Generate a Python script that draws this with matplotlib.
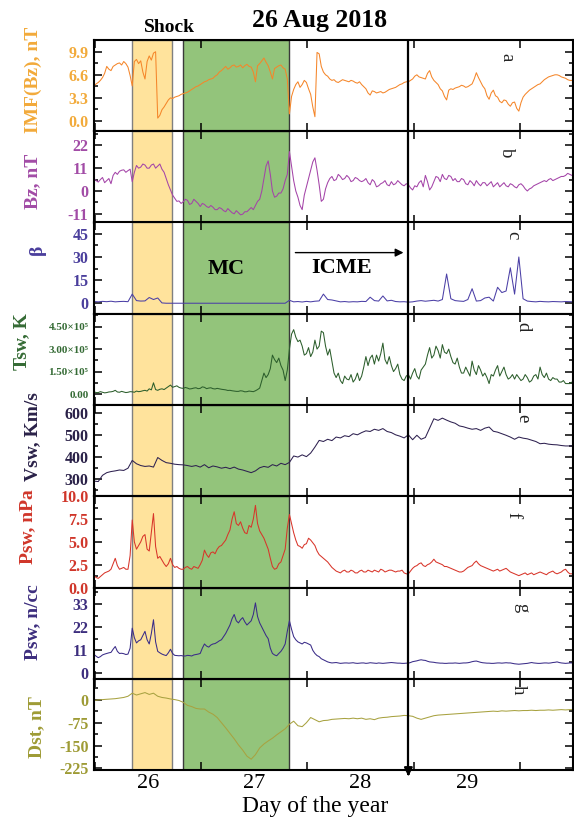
import numpy as np
import matplotlib.pyplot as plt
from matplotlib.ticker import FixedLocator

plt.rcParams['font.family'] = ['Liberation Serif', 'DejaVu Serif']

# ---------------- data ----------------
# main samples every 0.04 day, "mid" samples halfway between them
days = np.round(25.49 + 0.04 * np.arange(114), 2)
mid_days = np.round(days[:-1] + 0.02, 2)

imf_b = [5.0, 5.5, 6.2, 7.8, 7.2, 8.0, 8.3, 8.5, 7.7, 5.0,
         8.8, 8.6, 6.0, 9.3, 9.7, 0.4, 1.6, 2.5, 3.3, 3.4,
         3.6, 3.9, 4.1, 4.5, 4.9, 5.2, 5.6, 5.9, 6.1, 6.6,
         7.2, 7.8, 7.6, 8.0, 7.8, 7.6, 8.1, 7.7, 5.6, 8.2,
         9.0, 7.9, 6.0, 7.7, 8.0, 7.4, 1.0, 4.5, 5.6, 5.2,
         5.5, 3.8, 0.6, 9.6, 7.0, 6.4, 5.8, 5.6, 5.7, 5.8,
         5.6, 5.7, 5.4, 5.2, 4.6, 3.7, 4.2, 4.1, 4.0, 4.3,
         4.6, 4.8, 5.2, 5.5, 5.6, 6.0, 6.6, 6.2, 6.0, 7.2,
         5.8, 5.2, 4.3, 3.0, 4.6, 4.7, 4.9, 5.0, 4.9, 5.3,
         6.9, 5.6, 4.6, 3.1, 4.4, 3.4, 2.6, 2.9, 2.1, 2.7,
         1.4, 3.4, 4.1, 4.6, 5.0, 5.3, 5.9, 6.3, 6.5, 6.6,
         6.3, 6.1, 5.8, 5.8]
imf_b_mid = [5.3, 5.8, 6.8, 7.4, 7.8, 8.2, 8.0, 8.2, 6.5, 8.5,
             8.2, 7.0, 8.5, 8.7, 9.9, 0.8, 2.0, 3.0, 3.2, 3.5,
             3.8, 4.0, 4.3, 4.7, 5.0, 5.4, 5.7, 6.0, 6.4, 7.0,
             7.5, 7.4, 7.9, 7.7, 8.0, 7.9, 7.8, 7.0, 7.9, 8.6,
             8.4, 7.0, 7.5, 7.9, 7.6, 6.0, 3.5, 5.2, 4.8, 5.8,
             4.6, 2.0, 9.8, 7.8, 6.6, 6.0, 5.9, 5.5, 5.9, 5.7,
             5.8, 5.5, 5.6, 4.9, 4.0, 4.3, 4.0, 4.2, 4.1, 4.5,
             4.7, 5.0, 5.3, 5.6, 5.8, 6.4, 6.3, 6.1, 6.8, 6.3,
             5.5, 4.6, 3.5, 4.4, 4.5, 4.8, 5.1, 4.8, 5.1, 6.0,
             6.2, 5.0, 3.6, 4.0, 3.6, 2.8, 3.0, 2.4, 2.6, 1.8,
             2.6, 3.8, 4.4, 4.8, 5.2, 5.6, 6.1, 6.4, 6.6, 6.5,
             6.2, 5.9, 5.8]

bz = [6.0, 4.3, 6.5, 5.0, 3.5, 9.0, 9.5, 10.2, 9.8, 4.5,
      12.3, 11.5, 12.5, 11.0, 13.0, 12.0, 10.5, 6.0, 0.5, -3.5,
      -4.8, -5.2, -4.5, -6.0, -5.0, -7.5, -6.5, -8.0, -7.8, -9.0,
      -8.5, -10.0, -9.5, -11.0, -10.5, -11.2, -10.0, -8.0, -7.0, -4.0,
      6.0, 14.5, 0.0, -2.5, -1.0, 5.0, 19.0, 5.0, -3.0, -9.0,
      2.0, 10.0, 16.0, 3.0, -4.0, 4.0, 7.0, 5.5, 7.0, 6.0,
      6.5, 5.0, 6.0, 4.5, 6.0, 3.0, 4.5, 2.5, 4.0, 3.0,
      4.5, 3.5, 4.0, 2.5, 3.0, 0.5, 2.0, 5.0, 7.5, 0.5,
      4.5, 6.5, 8.0, 5.5, 7.0, 6.0, 4.5, 5.5, 3.0, 4.0,
      5.0, 2.5, 4.0, 3.5, 2.0, 4.0, 3.0, 2.5, 3.5, 2.0,
      3.0, 2.5, 0.0, 1.5, 3.0, 4.0, 5.0, 5.5, 5.0, 6.0,
      7.0, 7.5, 8.0, 8.0]
bz_mid = [5.0, 5.5, 4.0, 6.0, 7.5, 8.0, 10.0, 9.0, 10.5, 9.0,
          11.0, 13.0, 11.0, 12.5, 11.0, 13.0, 9.0, 3.0, -2.0, -5.0,
          -6.0, -4.0, -6.5, -4.0, -6.0, -6.0, -7.5, -7.0, -9.0, -8.0,
          -9.5, -8.5, -10.5, -9.5, -11.5, -10.0, -9.0, -9.0, -5.0, 0.0,
          12.0, 8.0, -3.0, -1.0, 1.0, 8.0, 12.0, 0.0, -7.0, -2.0,
          6.0, 14.0, 10.0, -5.0, 1.0, 6.0, 5.0, 8.0, 5.5, 7.5,
          4.5, 6.5, 5.0, 5.0, 4.0, 5.5, 2.0, 3.5, 5.0, 2.5,
          3.0, 5.0, 3.0, 3.5, 1.5, 2.5, 4.0, 2.0, 4.5, 2.0,
          7.0, 4.5, 6.0, 7.5, 5.0, 4.5, 6.0, 3.5, 5.0, 2.5,
          3.5, 4.0, 2.5, 4.5, 3.0, 2.0, 4.0, 2.0, 3.0, 1.5,
          3.5, 1.0, 1.0, 2.5, 3.5, 4.5, 4.5, 6.0, 5.5, 6.5,
          7.0, 8.5, 7.5]

beta = [1.2, 1.0, 1.3, 1.1, 1.4, 1.0, 1.2, 1.3, 1.1, 6.0,
        1.8, 1.5, 1.6, 3.8, 2.5, 3.5, 0.3, 0.1, 0.1, 0.1,
        0.1, 0.1, 0.1, 0.1, 0.1, 0.1, 0.1, 0.1, 0.1, 0.1,
        0.1, 0.1, 0.1, 0.1, 0.1, 0.1, 0.1, 0.1, 0.1, 0.1,
        0.1, 0.1, 0.1, 0.1, 0.1, 0.1, 2.0, 1.0, 1.2, 0.9,
        1.3, 1.0, 1.4, 1.6, 6.0, 2.5, 2.2, 1.6, 1.0, 1.2,
        0.9, 1.1, 1.0, 1.3, 1.2, 4.0, 1.8, 1.5, 4.8, 1.6,
        2.0, 1.2, 1.0, 1.1, 0.8, 1.0, 1.5, 1.8, 1.4, 1.7,
        2.0, 1.5, 2.5, 19.0, 3.0, 1.8, 1.5, 1.3, 2.5, 9.5,
        1.5, 1.8, 3.5, 4.0, 1.5, 10.4, 7.0, 8.0, 23.0, 6.0,
        30.0, 3.0, 1.5, 1.2, 1.0, 1.3, 1.1, 1.0, 1.2, 1.1,
        1.0, 1.2, 1.1, 1.0]

tsw_e5 = [0.15, 0.10, 0.12, 0.10, 0.15, 0.25, 0.12, 0.14, 0.12, 0.15,
          0.20, 0.18, 0.25, 0.35, 0.75, 0.25, 0.35, 0.40, 0.60, 0.50,
          0.45, 0.38, 0.40, 0.36, 0.42, 0.38, 0.45, 0.40, 0.36, 0.38,
          0.32, 0.28, 0.25, 0.20, 0.18, 0.20, 0.16, 0.18, 0.22, 0.40,
          1.40, 1.30, 2.60, 2.10, 1.90, 0.90, 3.00, 4.30, 3.50, 3.20,
          2.70, 2.50, 3.60, 3.20, 4.10, 2.60, 2.20, 1.10, 0.90, 1.20,
          0.95, 0.80, 1.40, 1.20, 2.50, 2.40, 2.00, 2.20, 3.40, 2.00,
          1.90, 1.70, 1.30, 0.90, 1.30, 1.40, 1.20, 1.60, 2.00, 3.10,
          2.60, 2.90, 3.30, 2.70, 2.50, 2.00, 1.80, 1.40, 1.50, 2.20,
          1.30, 1.60, 1.40, 0.70, 1.20, 1.90, 1.50, 1.30, 1.10, 1.00,
          1.10, 1.00, 1.10, 0.90, 1.30, 1.80, 1.10, 1.00, 1.10, 1.00,
          0.80, 0.70, 0.70, 0.70]
tsw_mid_e5 = [0.10, 0.16, 0.08, 0.14, 0.18, 0.14, 0.18, 0.10, 0.16, 0.12,
              0.16, 0.22, 0.20, 0.28, 0.30, 0.32, 0.30, 0.50, 0.45, 0.55,
              0.40, 0.44, 0.34, 0.40, 0.36, 0.48, 0.36, 0.42, 0.34, 0.35,
              0.30, 0.24, 0.22, 0.18, 0.22, 0.15, 0.20, 0.16, 0.30, 0.90,
              1.10, 1.70, 2.30, 2.40, 1.60, 1.60, 4.00, 3.80, 3.60, 2.60,
              3.10, 2.80, 3.00, 4.20, 3.20, 3.00, 1.40, 1.40, 0.70, 1.00,
              1.30, 1.00, 0.90, 1.80, 1.90, 2.60, 2.60, 2.70, 2.30, 2.50,
              1.50, 2.00, 1.00, 1.20, 1.00, 1.70, 1.00, 1.80, 2.60, 2.40,
              3.20, 2.40, 2.80, 3.00, 2.10, 2.40, 1.40, 1.80, 1.20, 1.60,
              1.90, 1.20, 1.10, 1.30, 1.60, 1.20, 1.80, 1.00, 1.30, 1.30,
              0.90, 1.30, 0.80, 1.20, 1.00, 1.30, 1.40, 0.90, 1.00, 0.80,
              0.90, 0.70, 0.80]

vsw = [292, 290, 318, 330, 335, 338, 342, 340, 350, 385,
       370, 362, 358, 360, 355, 398, 385, 375, 372, 368,
       366, 365, 362, 358, 362, 355, 366, 352, 360, 356,
       350, 354, 348, 355, 346, 342, 336, 330, 338, 352,
       358, 354, 366, 360, 372, 366, 376, 405, 400, 410,
       402, 418, 445, 475, 470, 480, 474, 490, 486, 496,
       492, 505, 500, 510, 518, 515, 525, 520, 528, 515,
       510, 500, 494, 486, 500, 478, 498, 480, 488, 530,
       572, 565, 575, 566, 558, 552, 540, 536, 530, 525,
       528, 520, 530, 535, 516, 512, 505, 498, 490, 480,
       490, 485, 482, 476, 470, 460, 462, 458, 456, 455,
       452, 450, 450, 450]

psw_npa = [1.3, 1.0, 1.4, 1.7, 2.0, 3.2, 2.0, 2.2, 2.0, 7.4,
           4.2, 5.0, 5.8, 4.0, 8.1, 3.2, 3.0, 2.3, 3.2, 2.2,
           2.1, 2.0, 2.3, 2.0, 2.2, 2.5, 4.1, 3.3, 3.9, 4.2,
           4.6, 5.2, 6.3, 8.3, 6.8, 6.5, 5.9, 6.6, 9.0, 6.2,
           5.4, 4.2, 2.3, 2.1, 2.8, 4.2, 8.0, 6.0, 4.6, 4.3,
           4.8, 5.2, 4.6, 3.6, 3.2, 2.8, 2.2, 1.8, 1.6, 1.9,
           1.7, 1.8, 1.6, 1.9, 1.7, 1.8, 1.9, 1.7, 1.9, 1.8,
           1.9, 1.7, 1.8, 1.6, 1.5, 2.1, 2.4, 2.7, 2.3, 2.6,
           3.1, 2.7, 2.5, 2.3, 2.1, 1.9, 1.7, 1.8, 2.2, 2.4,
           2.9, 2.4, 2.2, 2.0, 1.8, 2.0, 1.9, 2.1, 1.7, 1.5,
           1.3, 1.5, 1.4, 1.6, 1.5, 1.7, 1.5, 1.6, 1.8, 1.5,
           1.7, 2.0, 1.5, 1.4]
psw_npa_mid = [1.1, 1.2, 1.6, 1.8, 2.6, 2.4, 2.1, 2.0, 3.5, 5.0,
               4.6, 5.6, 4.2, 6.0, 4.5, 3.4, 2.6, 2.6, 2.5, 2.3,
               2.0, 2.2, 2.1, 2.3, 2.1, 3.0, 3.6, 3.8, 3.7, 4.5,
               4.9, 5.8, 7.5, 7.0, 7.2, 6.0, 6.8, 7.5, 7.0, 5.8,
               4.8, 3.2, 2.0, 2.6, 3.5, 6.5, 7.0, 5.2, 4.5, 4.7,
               5.4, 4.9, 4.0, 3.4, 3.0, 2.5, 2.0, 1.7, 1.8, 1.7,
               1.9, 1.6, 1.8, 1.7, 1.9, 1.7, 1.8, 2.0, 1.7, 1.9,
               1.8, 1.8, 1.9, 1.5, 1.8, 2.3, 2.6, 2.4, 2.5, 2.8,
               2.8, 2.6, 2.3, 2.2, 2.0, 1.8, 1.7, 2.0, 2.3, 2.7,
               2.6, 2.3, 2.1, 1.9, 1.9, 1.8, 2.0, 1.9, 1.6, 1.4,
               1.4, 1.6, 1.5, 1.4, 1.6, 1.6, 1.4, 1.7, 1.6, 1.6,
               1.9, 1.7, 1.5]

nsw = [9.0, 7.5, 8.8, 9.5, 10.0, 12.8, 9.5, 9.4, 9.2, 21.5,
       14.5, 16.0, 20.0, 14.0, 25.5, 10.5, 9.2, 8.5, 11.5, 8.6,
       8.4, 8.3, 8.6, 8.3, 9.0, 9.5, 14.0, 12.5, 14.0, 14.8,
       16.0, 19.0, 23.0, 28.0, 24.0, 26.5, 23.0, 25.0, 33.5, 24.0,
       20.0, 16.5, 9.5, 8.4, 10.5, 14.0, 25.0, 17.5, 15.0, 14.0,
       14.5, 13.5, 9.5, 8.0, 6.5, 5.5, 5.0, 5.2, 4.8, 5.0,
       4.9, 5.1, 4.8, 5.0, 4.8, 5.1, 4.9, 5.0, 4.8, 5.0,
       5.2, 5.0, 4.9, 4.8, 4.9, 5.6, 6.0, 6.5, 6.2, 5.5,
       5.3, 5.0, 4.9, 4.8, 4.9, 5.0, 4.8, 5.0, 5.1, 5.6,
       5.9, 5.3, 5.0, 4.9, 4.8, 5.0, 4.9, 5.1, 5.0, 4.6,
       4.4, 4.6, 4.8, 5.2, 4.9, 4.8, 5.0, 4.9, 5.2, 5.5,
       5.0, 4.8, 5.0, 5.0]
nsw_mid = [8.2, 8.0, 9.2, 9.8, 11.5, 10.5, 9.6, 9.0, 12.0, 17.0,
           15.5, 18.0, 16.0, 19.0, 15.0, 9.8, 8.8, 9.8, 9.5, 8.5,
           8.5, 8.3, 8.5, 8.8, 9.2, 12.0, 13.0, 13.5, 14.2, 15.5,
           17.5, 21.0, 26.0, 25.0, 25.5, 24.5, 24.0, 28.0, 27.0, 22.0,
           18.0, 12.0, 8.8, 9.5, 12.0, 20.0, 21.0, 16.0, 14.5, 14.8,
           14.0, 11.0, 8.5, 7.0, 6.0, 5.2, 5.1, 5.0, 4.9, 5.0,
           5.0, 4.9, 4.9, 5.0, 4.9, 5.0, 4.8, 4.9, 4.9, 5.1,
           5.1, 4.9, 4.8, 4.9, 5.2, 5.8, 6.3, 6.3, 5.8, 5.4,
           5.1, 4.9, 4.8, 4.9, 4.9, 4.9, 4.9, 5.0, 5.3, 5.8,
           5.6, 5.1, 4.9, 4.8, 4.9, 5.0, 5.0, 5.0, 4.8, 4.5,
           4.5, 4.7, 5.0, 5.0, 4.8, 4.9, 5.0, 5.0, 5.3, 5.2,
           4.9, 4.9, 5.0]

dst = [-2, 0, 1, 2, 3, 4, 6, 8, 12, 22,
       16, 20, 24, 18, 22, 12, 8, 6, 3, 1,
       -2, -8, -18, -22, -28, -30, -30, -40, -47, -58,
       -75, -92, -110, -128, -148, -165, -185, -195, -180, -158,
       -145, -135, -126, -115, -105, -95, -80, -70, -85, -88,
       -75, -58, -65, -72, -68, -67, -64, -63, -62, -61,
       -62, -60, -62, -60, -64, -62, -65, -60, -58, -57,
       -55, -54, -53, -51, -52, -54, -60, -64, -60, -56,
       -52, -50, -49, -48, -47, -46, -45, -44, -43, -42,
       -41, -40, -39, -38, -37, -38, -36, -37, -36, -35,
       -36, -35, -35, -34, -35, -34, -34, -33, -34, -33,
       -32, -33, -32, -32]

shock_span = (25.845, 26.22)
mc_span = (26.33, 27.327)
marker_day = 28.45
xtick_days = [26, 27, 28, 29]


def merge(main, mid):
    """Put the halfway samples between the main samples."""
    t = np.empty(len(days) + len(mid_days))
    v = np.empty_like(t)
    t[0::2], t[1::2] = days, mid_days
    v[0::2], v[1::2] = main, mid
    return t, v


# ---------------- figure ----------------
W, H = 574, 821
fig = plt.figure(figsize=(W / 100, H / 100), dpi=100)


def fx(px):
    return px / W


def fy(py):
    return 1 - py / H


left_px, right_px = 94, 573
top0, ph = 40.0, 91.25

panels = [
    dict(xy=merge(imf_b, imf_b_mid), color='#F5862A', lab='IMF(Bz), nT', lcol='#F2AA3A', lx=33, ly=80,
         ylim=(-1.48, 11.58), ticks=[0, 3.3, 6.6, 9.9], fmt='{:.1f}', letter='a'),
    dict(xy=merge(bz, bz_mid), color='#A444A8', lab='Bz, nT', lcol='#A24CA6', lx=33, ly=181,
         ylim=(-15.2, 28.8), ticks=[-11, 0, 11, 22], fmt='{:d}', letter='b'),
    dict(xy=(days, beta), color='#4B3FA6', lab='β', lcol='#4A3E9C', lx=37, ly=250,
         ylim=(-6.7, 52.3), ticks=[0, 15, 30, 45], fmt='{:d}', letter='c'),
    dict(xy=merge([v * 1e5 for v in tsw_e5], [v * 1e5 for v in tsw_mid_e5]), color='#2C5E2C',
         lab='Tsw, K', lcol='#356B35', lx=22, ly=342,
         ylim=(-0.73e5, 5.36e5), ticks=[0, 1.5e5, 3.0e5, 4.5e5], fmt=None, letter='d'),
    dict(xy=(days, vsw), color='#2E2150', lab='Vsw, Km/s', lcol='#2A2148', lx=33, ly=437,
         ylim=(224, 634), ticks=[300, 400, 500, 600], fmt='{:d}', letter='e'),
    dict(xy=merge(psw_npa, psw_npa_mid), color='#D8352A', lab='Psw, nPa', lcol='#D0362A', lx=28, ly=527,
         ylim=(0, 10), ticks=[0, 2.5, 5.0, 7.5, 10.0], fmt='{:.1f}', letter='f'),
    dict(xy=merge(nsw, nsw_mid), color='#3A2C88', lab='Psw, n/cc', lcol='#3D2E7E', lx=33, ly=622,
         ylim=(-2.5, 40.8), ticks=[0, 11, 22, 33], fmt='{:d}', letter='g'),
    dict(xy=(days, dst), color='#A8A240', lab='Dst, nT', lcol='#9E9B35', lx=37, ly=727,
         ylim=(-230.5, 69.5), ticks=[-225, -150, -75, 0], fmt='{:d}', letter='h'),
]
letter_pos = [(507, 57), (507, 153), (513, 235), (523, 327), (523, 418),
              (513, 515), (522, 608), (518, 690)]

axes = []
for k, p in enumerate(panels):
    top = top0 + k * ph
    ax = fig.add_axes([fx(left_px), fy(top + ph), fx(right_px) - fx(left_px), ph / H])
    axes.append(ax)
    ax.axvspan(*shock_span, facecolor='#FFE39C', edgecolor='#808080', lw=1.0, zorder=0)
    ax.axvspan(*mc_span, facecolor='#93C47B', edgecolor='#3A3A3A', lw=1.0, zorder=0)
    ax.plot(p['xy'][0], p['xy'][1], color=p['color'], lw=0.75, zorder=2)
    ax.axvline(marker_day, color='black', lw=1.6, zorder=3)
    ax.set_xlim(25.49, 30.0)
    ax.set_ylim(*p['ylim'])
    ax.set_xticks([25.5, 26.5, 27.5, 28.5, 29.5])
    ax.set_xticklabels([])
    ax.yaxis.set_major_locator(FixedLocator(p['ticks']))
    t = p['ticks']
    step = t[1] - t[0]
    minors = [t[0] + step * (i + 0.5) for i in range(-1, len(t))]
    ax.yaxis.set_minor_locator(FixedLocator(minors))
    if p['fmt'] is None:
        labs = ['0.00', '1.50×10⁵', '3.00×10⁵', '4.50×10⁵']
        fs = 8
    elif p['fmt'] == '{:d}':
        labs = [str(int(v)) for v in t]
        fs = 11.5
    else:
        labs = [p['fmt'].format(v) for v in t]
        fs = 11.5
    ax.set_yticklabels(labs, fontsize=fs, fontweight='bold', color=p['lcol'])
    ax.tick_params(axis='both', which='both', direction='in', left=True, right=True,
                   top=True, bottom=True, width=1.1)
    ax.tick_params(axis='both', which='major', length=5.5, pad=4)
    ax.tick_params(axis='both', which='minor', length=3.2)
    for s in ax.spines.values():
        s.set_linewidth(1.5)
    fig.text(fx(p['lx']), fy(p['ly']), p['lab'], rotation=90, ha='center', va='center',
             fontsize=14, fontweight='bold', color=p['lcol'])
    lx, ly = letter_pos[k]
    fig.text(fx(lx), fy(ly), p['letter'], rotation=-90, ha='center', va='center',
             fontsize=13.5, color='#222222')

# bottom axis labels at integer days
axb = axes[-1]
axb.set_xticks(xtick_days, minor=True)
axb.set_xticklabels([str(d) for d in xtick_days], minor=True, fontsize=16)
axb.tick_params(axis='x', which='minor', length=0, pad=3)
fig.text(fx(315), fy(806), 'Day of the year', ha='center', va='center', fontsize=17)

# arrow at the bottom of the vertical marker line
axb.annotate('', xy=(marker_day, -0.10), xytext=(marker_day, 0.0),
             xycoords=('data', 'axes fraction'), textcoords=('data', 'axes fraction'),
             arrowprops=dict(arrowstyle='-|>', color='black', lw=1.6,
                             mutation_scale=12), annotation_clip=False)

# ICME arrow and labels in panel c
axc = axes[2]
axc.annotate('', xy=(28.43, 0.67), xytext=(27.36, 0.67),
             xycoords=('data', 'axes fraction'), textcoords=('data', 'axes fraction'),
             arrowprops=dict(arrowstyle='-|>', color='black', lw=1.0, mutation_scale=12))
axc.text(27.82, 0.50, 'ICME', transform=axc.get_xaxis_transform(), ha='center',
         va='center', fontsize=16, fontweight='bold', zorder=5)
axc.text(26.73, 0.49, 'MC', transform=axc.get_xaxis_transform(), ha='center',
         va='center', fontsize=16, fontweight='bold', zorder=5)

fig.text(fx(320), fy(20), '26 Aug 2018', ha='center', va='center', fontsize=18.5,
         fontweight='bold')
fig.text(fx(169), fy(27), 'Shock', ha='center', va='center', fontsize=14,
         fontweight='bold')

fig.savefig('out.png', dpi=100)
